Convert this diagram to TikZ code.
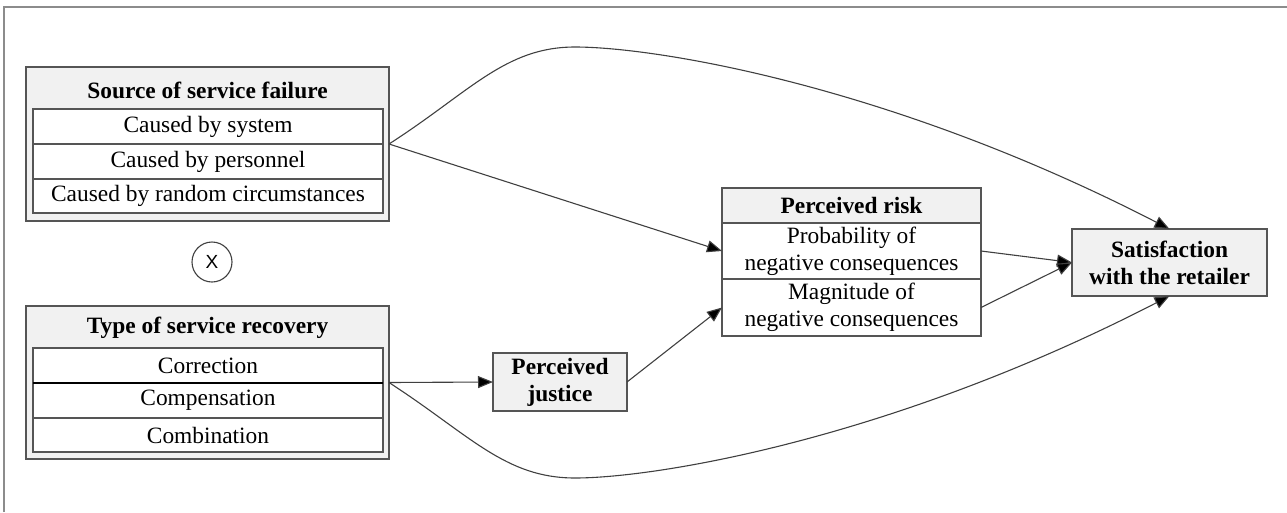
\documentclass[tikz,border=0pt]{standalone}
\usepackage{fontspec}
\setmainfont{Liberation Serif}
\newfontfamily\xsans{Liberation Sans}
\usetikzlibrary{arrows.meta}
\definecolor{boxgray}{HTML}{F1F1F1}
\definecolor{linec}{HTML}{555555}
\definecolor{arrc}{HTML}{404040}
\definecolor{framec}{HTML}{8C8C8C}
\begin{document}
\begin{tikzpicture}[x=1pt,y=-1pt,
  outerbox/.style={draw=linec, line width=1.2pt, fill=boxgray, inner sep=0pt, outer sep=0pt},
  rowbox/.style={draw=linec, line width=1.1pt, fill=white, inner sep=0pt, outer sep=0pt,
    font=\fontsize{23.4}{27}\selectfont, align=center},
  headtext/.style={inner sep=0pt, font=\fontsize{23.4}{27}\selectfont\bfseries, align=center},
  headbox/.style={draw=linec, line width=1.2pt, fill=boxgray, inner sep=0pt, outer sep=0pt,
    font=\fontsize{23.4}{27}\selectfont\bfseries, align=center},
  arr/.style={draw=arrc, line width=1.1pt, -{Triangle[length=15pt,width=12pt,fill=black]}},
]
\useasboundingbox (0,0) rectangle (1287,512);

% page frame (top and left edges only)
\draw[framec, line width=2pt] (3.5,512) -- (3.5,6.5) -- (1287,6.5);

% source of service failure
\node[outerbox, minimum width=363pt, minimum height=154pt] (src) at (207.5,144) {};
\node[headtext] (srcT) at (207.5,90) {Source of service failure};
\node[rowbox, minimum width=350pt, minimum height=35pt] (s1) at (208,126.5) {Caused by system};
\node[rowbox, minimum width=350pt, minimum height=35pt] (s2) at (208,161.5) {Caused by personnel};
\node[rowbox, minimum width=350pt, minimum height=34pt] (s3) at (208,196) {Caused by random circumstances};

% interaction sign
\node[circle, draw=arrc, line width=1.1pt, minimum size=40pt, inner sep=0pt,
  font=\xsans\fontsize{19}{19}\selectfont] (cross) at (212,262) {X};

% type of service recovery
\node[outerbox, minimum width=363pt, minimum height=153pt] (typ) at (207.5,382.5) {};
\node[headtext] (typT) at (207.5,328) {Type of service recovery};
\node[rowbox, minimum width=350pt, minimum height=35pt] (t1) at (208,365.5) {Correction};
\node[rowbox, minimum width=350pt, minimum height=35pt] (t2) at (208,400.5) {Compensation};
\node[rowbox, minimum width=350pt, minimum height=34pt] (t3) at (208,435) {Combination};
\draw[black, line width=2pt] (t1.south west) -- (t1.south east);

% perceived justice
\node[headbox, minimum width=134pt, minimum height=58pt] (jus) at (560,382) {Perceived\\justice};

% perceived risk
\node[headbox, minimum width=259pt, minimum height=35pt] (riskT) at (851.5,205.5) {Perceived risk};
\node[rowbox, minimum width=259pt, minimum height=56pt] (risk1) at (851.5,251) {Probability of\\negative consequences};
\node[rowbox, minimum width=259pt, minimum height=57pt] (risk2) at (851.5,307.5) {Magnitude of\\negative consequences};

% satisfaction
\node[headbox, minimum width=195pt, minimum height=67pt] (sat) at (1169.5,262.5) {Satisfaction\\with the retailer};

% paths
\draw[arr] (src.east) -- (risk1.west);
\draw[arr] (src.east) .. controls (470,92) and (505,47) .. (575,47)
  .. controls (655,47) and (890,85) .. (sat.north);
\draw[arr] (typ.east) -- (jus.west);
\draw[arr] (typ.east) .. controls (470,435) and (505,478) .. (575,478)
  .. controls (655,478) and (890,440) .. (sat.south);
\draw[arr] (jus.east) -- (risk2.west);
\draw[arr] (risk1.east) -- (sat.west);
\draw[arr] (risk2.east) -- (sat.west);
\end{tikzpicture}
\end{document}
